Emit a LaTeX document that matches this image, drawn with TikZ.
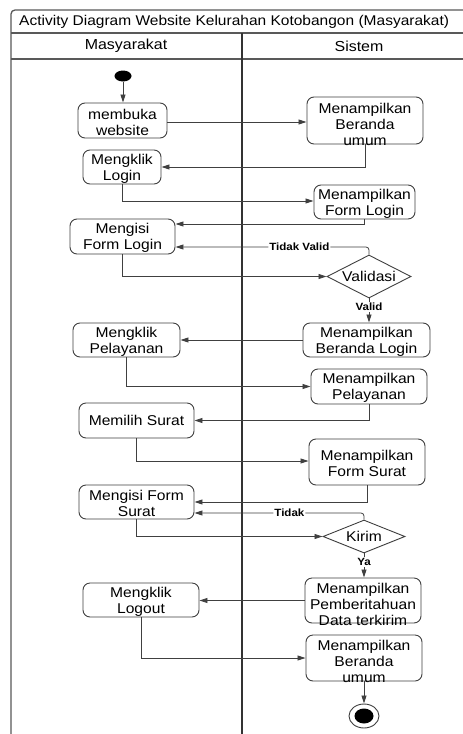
\documentclass[tikz,border=0pt]{standalone}
\usepackage{fontspec}
\setmainfont[FakeStretch=1.1]{Liberation Sans}
\usetikzlibrary{arrows.meta,shapes.geometric}
\begin{document}
\begin{tikzpicture}[x=1pt,y=-1pt,
  frameline/.style={draw=black!65,line width=1.3pt},
  lane/.style={draw=black!80,line width=1.6pt},
  actbox/.style={draw=black!75,line width=0.9pt,rounded corners=7pt,rectangle,inner sep=0pt},
  boxtxt/.style={font=\fontsize{14.2}{16}\selectfont,align=center,inner sep=0pt},
  dec/.style={draw=black!75,line width=0.9pt,diamond,aspect=2,inner sep=0pt,font=\fontsize{14.2}{16}\selectfont},
  arr/.style={draw=black!75,line width=0.8pt,-{Triangle[length=8pt,width=5pt]}},
  lbl/.style={font=\fontsize{10.5}{12}\selectfont\bfseries,fill=white,inner sep=1pt},
  hdr/.style={font=\fontsize{14.5}{16}\selectfont,inner sep=0pt}]
\useasboundingbox (0,0) rectangle (463,734);
\fill[white] (0,0) rectangle (463,734);
% frame
\draw[frameline,rounded corners=4pt] (11,740) -- (11,10) -- (470,10);
\draw[frameline] (11,33) -- (470,33);
\draw[frameline] (11,59) -- (470,59);
\draw[lane] (242,33) -- (242,740);
\node[hdr,anchor=west,font=\fontsize{14.1}{16}\selectfont] (title) at (19,22) {Activity Diagram Website Kelurahan Kotobangon (Masyarakat)};
\node[hdr] (hm) at (126,46) {Masyarakat};
\node[hdr] (hs) at (359,46) {Sistem};
% start
\node[ellipse,fill=black,minimum width=17pt,minimum height=11pt,inner sep=0pt] (start) at (123,76) {};
% boxes: name, center, w, h
\newcommand\actnode[6]{%
  \node[actbox,minimum width=#3pt,minimum height=#4pt] (#1) at (#2) {};
  \node[boxtxt] (#1-t) at ([yshift=#5pt]#1.center) {#6};}
\actnode{membuka}{122.5,120.5}{89}{35}{-2}{membuka\\website}
\actnode{berandaA}{365,120.5}{116}{47}{-3.5}{Menampilkan\\Beranda\\umum}
\actnode{klogin}{122,167}{78}{34}{-1.5}{Mengklik\\Login}
\actnode{flogin}{364.5,202}{101}{34}{-1.5}{Menampilkan\\Form Login}
\actnode{isilogin}{122.5,236.5}{105}{35}{-1.5}{Mengisi\\Form Login}
\node[dec,minimum width=84pt,minimum height=43pt] (validasi) at (369,276.5) {Validasi};
\actnode{blogin}{366.5,340}{127}{34}{-1.5}{Menampilkan\\Beranda Login}
\actnode{kpel}{126.5,340}{107}{34}{-1.5}{Mengklik\\Pelayanan}
\actnode{mpel}{369,386.5}{116}{35}{-1.5}{Menampilkan\\Pelayanan}
\actnode{pilih}{136.5,420.5}{115}{35}{0}{Memilih Surat}
\actnode{fsurat}{367,462}{116}{46}{-1.5}{Menampilkan\\Form Surat}
\actnode{isisurat}{136.5,502}{115}{34}{-1}{Mengisi Form\\Surat}
\node[dec,minimum width=82pt,minimum height=33pt] (kirim) at (364,536.5) {Kirim};
\actnode{notif}{363,600.5}{116}{45}{-3.5}{Menampilkan\\Pemberitahuan\\Data terkirim}
\actnode{logout}{141,600}{116}{34}{-1.5}{Mengklik\\Logout}
\actnode{berandaB}{364,658}{116}{46}{-3.5}{Menampilkan\\Beranda\\umum}
% end
\node[ellipse,draw=black!75,line width=0.9pt,minimum width=30pt,minimum height=24pt,inner sep=0pt] (end) at (364,716) {};
\node[ellipse,fill=black,minimum width=19pt,minimum height=15pt,inner sep=0pt] (endin) at (364,716) {};
% connectors
\draw[arr] (start.south) -- (start.south |- membuka.north);
\draw[arr] ([yshift=-1.5pt]membuka.east) -- ([yshift=-1.5pt]membuka.east -| berandaA.west);
\draw[arr] (berandaA.south) |- (klogin.east);
\draw[arr] (klogin.south) |- ([yshift=1pt]flogin.west);
\draw[arr] (flogin.south) |- ([yshift=12.5pt]isilogin.east);
\draw[arr,rounded corners=3pt] (validasi.north) |- node[lbl,pos=0.68] (tv) {Tidak Valid} ([yshift=-10.5pt]isilogin.east);
\draw[arr] (isilogin.south) |- (validasi.west);
\draw[arr] (validasi.south) -- node[lbl,pos=0.35] (vl) {Valid} (validasi.south |- blogin.north);
\draw[arr] (blogin.west) -- (kpel.east);
\draw[arr] (kpel.south) |- (mpel.west);
\draw[arr] (mpel.south) |- (pilih.east);
\draw[arr] (pilih.south) |- ([yshift=1pt]fsurat.west);
\draw[arr] (fsurat.south) |- (isisurat.east);
\draw[arr,rounded corners=3pt] (kirim.north) |- node[lbl,pos=0.72] (td) {Tidak} ([yshift=-11pt]isisurat.east);
\draw[arr] (isisurat.south) |- (kirim.west);
\draw[arr] (kirim.south) -- node[lbl,pos=0.36] (ya) {Ya} (kirim.south |- notif.north);
\draw[arr] (notif.west) -- (notif.west -| logout.east);
\draw[arr] (logout.south) |- (berandaB.west);
\draw[arr] (berandaB.south) -- (end.north);
\end{tikzpicture}
\end{document}
